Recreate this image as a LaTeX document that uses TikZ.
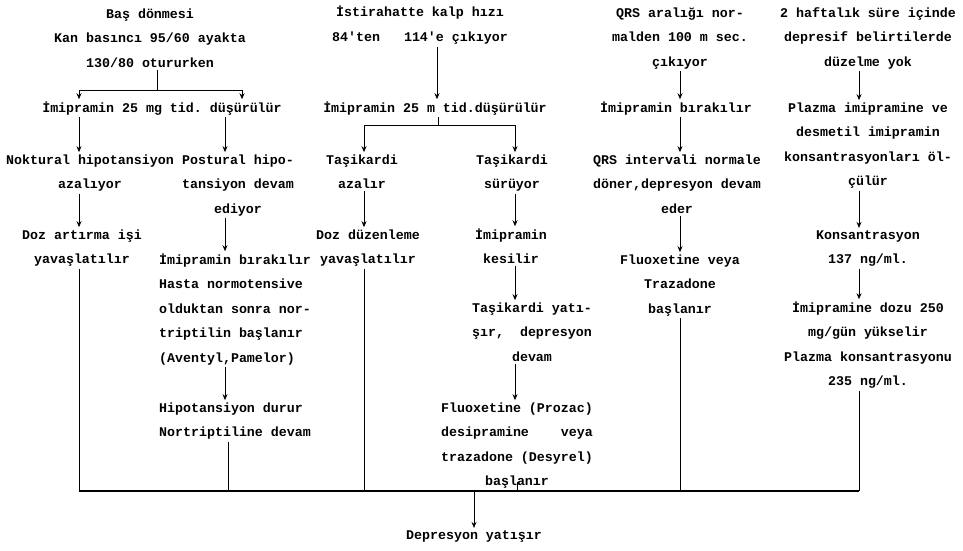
\documentclass[tikz,border=0pt]{standalone}
\usepackage{fontspec}
\newfontfamily\dotfont{Liberation Mono}
\usetikzlibrary{arrows.meta}
\frenchspacing
\begin{document}
\begin{tikzpicture}[x=1pt,y=-1pt,
 txt/.style={font=\dotfont\bfseries\fontsize{13.3}{24.6}\selectfont, inner sep=2pt, align=center, anchor=base},
 ltxt/.style={txt, align=left, anchor=base west},
 ln/.style={line width=0.8pt},
 arr/.style={ln, -{Stealth[length=6pt,width=5pt]}},
]
\useasboundingbox (0,0) rectangle (963,551);

% node positions give the baseline of the LAST line of each node
% headers
\node[txt] (h1) at (150,67.2) {Baş dönmesi\\Kan basıncı 95/60 ayakta\\130/80 otururken};
\node[txt] (h2) at (420,41.6) {İstirahatte kalp hızı\\84'ten~~~114'e çıkıyor};
\node[txt] (h3) at (680,66.2) {QRS aralığı nor-\\malden 100 m sec.\\çıkıyor};
\node[txt] (h4) at (868,66.2) {2 haftalık süre içinde\\depresif belirtilerde\\düzelme yok};

% row 2
\node[txt] (a1) at (162,112) {İmipramin 25 mg tid. düşürülür};
\node[txt] (b1) at (435,112) {İmipramin 25 m tid.düşürülür};
\node[txt] (c1) at (676,112) {İmipramin bırakılır};
\node[txt] (d1) at (868,185.8) {Plazma imipramine ve\\desmetil imipramin\\konsantrasyonları öl-\\çülür};

% row 3
\node[txt] (a2) at (90,188.6) {Noktural hipotansiyon\\azalıyor};
\node[txt] (a3) at (238,213.2) {Postural hipo-\\tansiyon devam\\ediyor};
\node[txt] (b2) at (362,188.6) {Taşikardi\\azalır};
\node[txt] (b3) at (512,188.6) {Taşikardi\\sürüyor};
\node[txt] (c2) at (677,213.2) {QRS intervali normale\\döner,depresyon devam\\eder};

% row 4
\node[txt] (a4) at (82,263.6) {Doz artırma işi\\yavaşlatılır};
\node[txt] (b4) at (368,263.6) {Doz düzenleme\\yavaşlatılır};
\node[txt] (b5) at (511,263.6) {İmipramin\\kesilir};
\node[txt] (d2) at (868,263.6) {Konsantrasyon\\137 ng/ml.};

\node[ltxt] (a5) at (157,362.4) {İmipramin bırakılır\\Hasta normotensive\\olduktan sonra nor-\\triptilin başlanır\\(Aventyl,Pamelor)};
\node[txt] (c3) at (680,313.2) {Fluoxetine veya\\Trazadone\\başlanır};

\node[txt] (b6) at (532,361.2) {Taşikardi yatı-\\şır,~~depresyon\\devam};
\node[txt] (d3) at (868,385.8) {İmipramine dozu 250\\mg/gün yükselir\\Plazma konsantrasyonu\\235 ng/ml.};

\node[ltxt] (a6) at (157,436.6) {Hipotansiyon durur\\Nortriptiline devam};
\node[txt] (b7) at (517,485.8) {Fluoxetine (Prozac)\\desipramine~~~~veya\\trazadone (Desyrel)\\başlanır};

\node[txt] (e1) at (474,539) {Depresyon yatışır};

% x positions
\coordinate (xa) at (79,0);
\coordinate (xa2) at (242,0);
\coordinate (xb) at (225,0);
\coordinate (xb2) at (228,0);
\coordinate (xh) at (437,0);
\coordinate (xc) at (364,0);
\coordinate (xd) at (515,0);
\coordinate (xd2) at (517,0);
\coordinate (xe) at (680,0);
\coordinate (xf) at (859,0);
\coordinate (xg) at (474,0);
\coordinate (j1) at (157,90);
\coordinate (j2) at (438,125);
\coordinate (bot) at (0,491);

% column 1
\draw[ln] (h1.south -| j1) -- (j1);
\draw[arr] (j1) -| (a1.north -| xa);
\draw[arr] (j1) -| (a1.north -| xa2);
\draw[arr] (a1.south -| xa) -- (a2.north -| xa);
\draw[arr] (a1.south -| xb) -- (a3.north -| xb);
\draw[arr] (a2.south -| xa) -- (a4.north -| xa);
\draw[arr] (a3.south -| xb) -- (a5.north -| xb);
\draw[ln] (a4.south -| xa) -- (bot -| xa);
\draw[arr] (a5.south -| xb) -- (a6.north -| xb);
\draw[ln] (a6.south -| xb2) -- (bot -| xb2);

% column 2
\draw[arr] (h2.south -| xh) -- (b1.north -| xh);
\draw[ln] (b1.south -| j2) -- (j2);
\draw[arr] (j2) -| (b2.north -| xc);
\draw[arr] (j2) -| (b3.north -| xd);
\draw[arr] (b2.south -| xc) -- (b4.north -| xc);
\draw[arr] (b3.south -| xd) -- (b5.north -| xd);
\draw[ln] (b4.south -| xc) -- (bot -| xc);
\draw[arr] (b5.south -| xd) -- (b6.north -| xd);
\draw[arr] (b6.south -| xd) -- (b7.north -| xd);
\draw[ln] (b7.south -| xd2) ++(0,-9) -- (bot -| xd2);

% column 3
\draw[arr] (h3.south -| xe) -- (c1.north -| xe);
\draw[arr] (c1.south -| xe) -- (c2.north -| xe);
\draw[arr] (c2.south -| xe) -- (c3.north -| xe);
\draw[ln] (c3.south -| xe) -- (bot -| xe);

% column 4
\draw[arr] (h4.south -| xf) -- (d1.north -| xf);
\draw[arr] (d1.south -| xf) -- (d2.north -| xf);
\draw[arr] (d2.south -| xf) -- (d3.north -| xf);
\draw[ln] (d3.south -| xf) -- (bot -| xf);

% bottom
\draw[line width=1.4pt] (bot -| xa) -- (bot -| xf);
\draw[arr] (bot -| xg) -- (e1.north -| xg);
\end{tikzpicture}
\end{document}
